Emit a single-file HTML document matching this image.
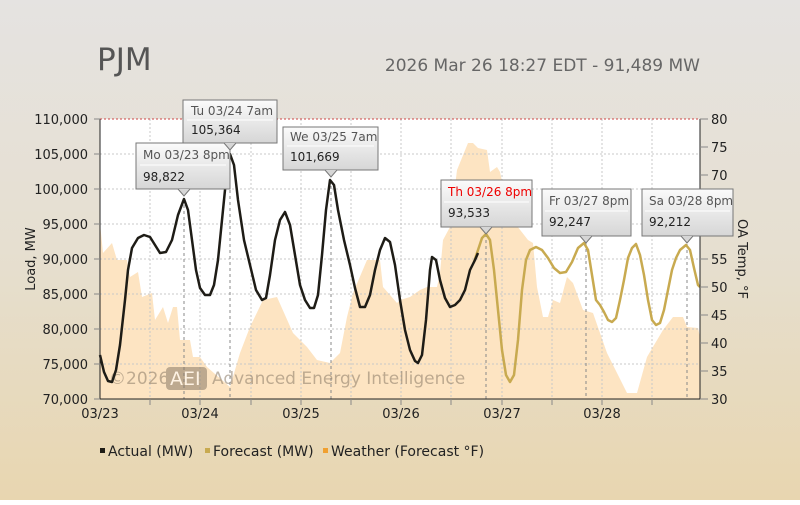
<!DOCTYPE html>
<html><head><meta charset="utf-8"><style>
body{margin:0;width:800px;height:500px;overflow:hidden;font-family:"Liberation Sans","DejaVu Sans",sans-serif}
</style></head><body>
<svg width="800" height="500" xmlns="http://www.w3.org/2000/svg" font-family="DejaVu Sans, Liberation Sans, sans-serif">
<defs>
<linearGradient id="bg" x1="0" y1="0" x2="0" y2="1"><stop offset="0" stop-color="#e5e3e1"/><stop offset="0.5" stop-color="#e6dfd0"/><stop offset="1" stop-color="#e8d6b0"/></linearGradient>
<linearGradient id="tt" x1="0" y1="0" x2="0" y2="1"><stop offset="0" stop-color="#fbfbfb"/><stop offset="1" stop-color="#d6d6d6"/></linearGradient>
</defs>
<rect width="800" height="500" fill="url(#bg)"/>
<rect x="100" y="119" width="600" height="280" fill="#fff"/>
<path fill="#fde4c2" d="M100,399 L100,223 103,253 112,243 117,260 127,260 130,277 138,272 142,297 152,293 155,320 163,307 168,323 173,307 177,307 180,340 190,340 193,357 200,357 207,367 230,387 240,353 250,327 263,300 277,297 293,333 307,347 317,360 330,363 340,353 347,317 353,293 367,260 380,260 383,287 397,303 400,300 410,297 420,290 427,287 437,287 440,273 443,240 450,227 457,170 468,143 473,143 478,148 487,150 490,172 497,167 500,172 510,217 528,240 533,243 537,287 543,317 548,317 553,300 560,303 567,277 573,283 583,310 593,313 607,353 627,393 637,393 647,357 663,330 673,317 683,317 687,327 698,328 700,337 700,399Z"/>
<g stroke="#c8c8c8" stroke-dasharray="2,2" stroke-width="1">
<path d="M100,154H700M100,189H700M100,224H700M100,259H700M100,294H700M100,329H700M100,364H700"/>
<path d="M150,119V399M200,119V399M251,119V399M301,119V399M351,119V399M401,119V399M451,119V399M502,119V399M552,119V399M602,119V399M652,119V399"/>
</g>
<path d="M100,119H700" stroke="#c44" stroke-dasharray="2,2"/>
<g stroke="#888" stroke-dasharray="3,3"><path d="M184,199V399M230,154V399M331,180V399M486,234V399M586,243V399M687,244V399"/></g>
<g font-size="17" fill="#8a7a66" opacity="0.55"><text x="109" y="384">©2026</text><rect x="166" y="367" width="41" height="23" rx="4" fill="#8a7a66"/><text x="170" y="385" fill="#fff" font-size="19">AEI</text><text x="212" y="384">Advanced Energy Intelligence</text></g>
<path fill="none" stroke="#c8aa50" stroke-width="2.5" stroke-linejoin="round" d="M474,262 478,250 482,238 486,234 490,240 494,270 498,310 502,350 506,375 510,382 514,375 518,340 522,290 526,260 530,250 536,247 542,250 548,258 554,268 560,273 566,272 572,262 578,248 584,243 588,250 592,275 596,300 600,305 604,312 608,320 612,322 616,318 620,300 624,280 628,258 632,248 636,244 640,255 644,275 648,300 652,320 656,325 660,323 664,310 668,290 672,270 676,258 680,250 686,245 690,250 694,268 698,285 700,287"/>
<path fill="none" stroke="#1e1c16" stroke-width="2.5" stroke-linejoin="round" d="M100,355 104,372 108,381 112,382 116,370 120,345 125,300 128,270 132,248 138,238 144,235 150,237 155,245 160,253 166,252 172,240 178,215 184,199 188,210 192,240 196,270 200,288 205,295 210,295 214,285 218,260 222,220 226,180 230,154 234,165 238,200 244,240 250,265 256,290 262,300 266,298 270,275 275,240 280,220 285,212 290,225 295,255 300,285 305,300 310,308 314,308 318,295 322,255 326,210 330,180 334,185 338,210 344,240 350,265 355,288 360,307 365,307 370,295 375,270 380,250 385,238 390,242 395,265 400,300 405,330 410,350 415,361 418,363 422,355 426,320 430,270 432,257 436,260 440,280 445,298 450,307 455,305 460,300 465,290 470,270 475,260 478,253"/>
<path d="M100,119V399H700V119" fill="none" stroke="#222" stroke-width="1"/>
<g stroke="#888"><path d="M94,119H100M94,154H100M94,189H100M94,224H100M94,259H100M94,294H100M94,329H100M94,364H100M94,399H100"/><path d="M700,119H708M700,147H708M700,175H708M700,203H708M700,231H708M700,259H708M700,287H708M700,315H708M700,343H708M700,371H708M700,399H708"/><path d="M150,399V405M200,399V405M251,399V405M301,399V405M351,399V405M401,399V405M451,399V405M502,399V405M552,399V405M602,399V405M652,399V405"/></g>
<g font-size="13" fill="#222" text-anchor="end"><text x="88" y="124">110,000</text><text x="88" y="159">105,000</text><text x="88" y="194">100,000</text><text x="88" y="229">95,000</text><text x="88" y="264">90,000</text><text x="88" y="299">85,000</text><text x="88" y="334">80,000</text><text x="88" y="369">75,000</text><text x="88" y="404">70,000</text></g>
<g font-size="13" fill="#222"><text x="711" y="124">80</text><text x="711" y="152">75</text><text x="711" y="180">70</text><text x="711" y="208">65</text><text x="711" y="236">60</text><text x="711" y="264">55</text><text x="711" y="292">50</text><text x="711" y="320">45</text><text x="711" y="348">40</text><text x="711" y="376">35</text><text x="711" y="404">30</text></g>
<g font-size="13" fill="#222" text-anchor="middle"><text x="100" y="418">03/23</text><text x="200" y="418">03/24</text><text x="301" y="418">03/25</text><text x="401" y="418">03/26</text><text x="502" y="418">03/27</text><text x="602" y="418">03/28</text></g>
<text transform="translate(35,259) rotate(-90)" font-size="13" fill="#222" text-anchor="middle">Load, MW</text>
<text transform="translate(738,259) rotate(90)" font-size="13" fill="#222" text-anchor="middle">OA Temp, °F</text>
<text x="97" y="70" font-size="31" fill="#555">PJM</text>
<text x="700" y="71" font-size="17" fill="#666" text-anchor="end">2026 Mar 26 18:27 EDT - 91,489 MW</text>
<g font-size="12">
<g><rect x="136" y="143" width="94" height="46" fill="url(#tt)" stroke="#777"/><path d="M178,189l6,7 6,-7" fill="#d6d6d6" stroke="#777"/><path d="M140,165H226" stroke="#fff"/><text x="143" y="159" fill="#555">Mo 03/23 8pm</text><text x="143" y="181" fill="#222">98,822</text></g>
<g><rect x="183" y="100" width="94" height="43" fill="url(#tt)" stroke="#777"/><path d="M224,143l6,7 6,-7" fill="#d6d6d6" stroke="#777"/><path d="M187,120H273" stroke="#fff"/><text x="191" y="115" fill="#555">Tu 03/24 7am</text><text x="191" y="134" fill="#222">105,364</text></g>
<g><rect x="283" y="127" width="95" height="43" fill="url(#tt)" stroke="#777"/><path d="M325,170l6,7 6,-7" fill="#d6d6d6" stroke="#777"/><path d="M287,146H374" stroke="#fff"/><text x="290" y="141" fill="#555">We 03/25 7am</text><text x="290" y="161" fill="#222">101,669</text></g>
<g><rect x="441" y="180" width="91" height="47" fill="url(#tt)" stroke="#777"/><path d="M480,227l6,7 6,-7" fill="#d6d6d6" stroke="#777"/><path d="M444,202H529" stroke="#fff"/><text x="448" y="196" fill="#e00">Th 03/26 8pm</text><text x="448" y="217" fill="#222">93,533</text></g>
<g><rect x="542" y="189" width="89" height="47" fill="url(#tt)" stroke="#777"/><path d="M580,236l6,7 6,-7" fill="#d6d6d6" stroke="#777"/><path d="M545,211H628" stroke="#fff"/><text x="549" y="205" fill="#555">Fr 03/27 8pm</text><text x="549" y="226" fill="#222">92,247</text></g>
<g><rect x="642" y="189" width="91" height="47" fill="url(#tt)" stroke="#777"/><path d="M681,236l6,7 6,-7" fill="#d6d6d6" stroke="#777"/><path d="M645,211H730" stroke="#fff"/><text x="649" y="205" fill="#555">Sa 03/28 8pm</text><text x="649" y="226" fill="#222">92,212</text></g>
</g>
<g font-size="14" fill="#222"><rect x="100" y="448" width="5" height="5" fill="#1e1c16"/><text x="108" y="456">Actual (MW)</text><rect x="205" y="448" width="5" height="5" fill="#c8aa50"/><text x="213" y="456">Forecast (MW)</text><rect x="323" y="448" width="5" height="5" fill="#f0a030"/><text x="331" y="456">Weather (Forecast °F)</text></g>
</svg>
</body></html>
